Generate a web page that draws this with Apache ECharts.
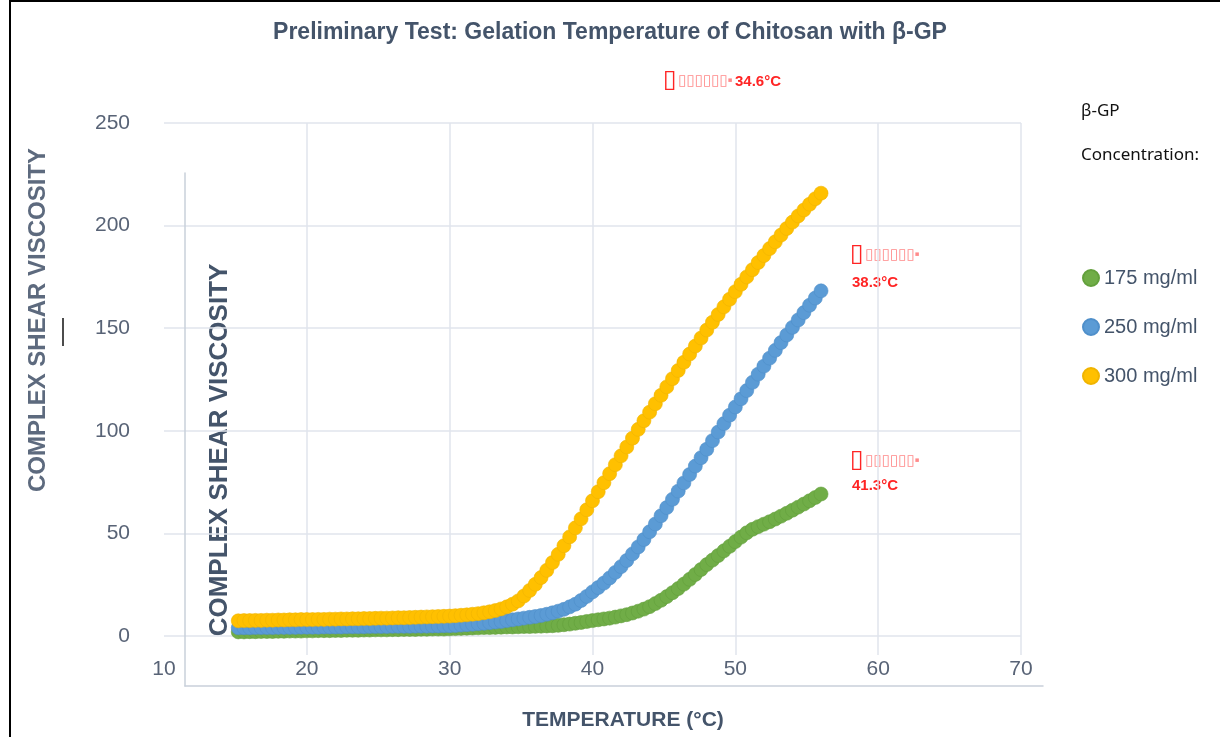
<!DOCTYPE html>
<html>
<head>
<meta charset="utf-8">
<script src="https://cdn.jsdelivr.net/npm/echarts@6/dist/echarts.min.js"></script>
<style>
  html, body { margin: 0; padding: 0; background: #fff; }
  #main { width: 1220px; height: 737px; }
</style>
</head>
<body>
<div id="main"></div>
<script>
// temperature (°C) of each reading
const temps = [
  15.2, 15.6, 16.0, 16.4, 16.8, 17.2, 17.6, 18.0, 18.4, 18.8,
  19.2, 19.6, 20.0, 20.4, 20.8, 21.2, 21.6, 22.0, 22.4, 22.8,
  23.2, 23.6, 24.0, 24.4, 24.8, 25.2, 25.6, 26.0, 26.4, 26.8,
  27.2, 27.6, 28.0, 28.4, 28.8, 29.2, 29.6, 30.0, 30.4, 30.8,
  31.2, 31.6, 32.0, 32.4, 32.8, 33.2, 33.6, 34.0, 34.4, 34.8,
  35.2, 35.6, 36.0, 36.4, 36.8, 37.2, 37.6, 38.0, 38.4, 38.8,
  39.2, 39.6, 40.0, 40.4, 40.8, 41.2, 41.6, 42.0, 42.4, 42.8,
  43.2, 43.6, 44.0, 44.4, 44.8, 45.2, 45.6, 46.0, 46.4, 46.8,
  47.2, 47.6, 48.0, 48.4, 48.8, 49.2, 49.6, 50.0, 50.4, 50.8,
  51.2, 51.6, 52.0, 52.4, 52.8, 53.2, 53.6, 54.0, 54.4, 54.8,
  55.2, 55.6, 56.0
];

const visc175 = [
  2.0, 2.0, 2.1, 2.1, 2.2, 2.2, 2.2, 2.3, 2.3, 2.4,
  2.4, 2.4, 2.5, 2.5, 2.6, 2.6, 2.6, 2.7, 2.7, 2.8,
  2.8, 2.8, 2.9, 2.9, 3.0, 3.0, 3.0, 3.1, 3.1, 3.2,
  3.2, 3.2, 3.3, 3.3, 3.4, 3.4, 3.4, 3.5, 3.6, 3.7,
  3.8, 3.9, 4.0, 4.1, 4.1, 4.2, 4.3, 4.4, 4.4, 4.5,
  4.6, 4.6, 4.7, 4.8, 4.9, 5.0, 5.2, 5.5, 5.8, 6.2,
  6.6, 7.1, 7.5, 7.9, 8.3, 8.7, 9.2, 9.8, 10.4, 11.2,
  12.1, 13.1, 14.3, 15.8, 17.4, 19.2, 21.1, 23.1, 25.3, 27.6,
  30.0, 32.4, 34.8, 37.0, 39.2, 41.5, 43.7, 46.0, 48.2, 50.3,
  52.0, 53.3, 54.5, 55.7, 57.0, 58.4, 59.8, 61.3, 62.8, 64.3,
  65.9, 67.5, 69.2
];

const visc250 = [
  4.0, 4.0, 4.0, 4.1, 4.1, 4.1, 4.1, 4.2, 4.2, 4.2,
  4.2, 4.3, 4.3, 4.3, 4.3, 4.4, 4.4, 4.4, 4.4, 4.5,
  4.5, 4.5, 4.5, 4.6, 4.6, 4.6, 4.6, 4.7, 4.7, 4.7,
  4.7, 4.8, 4.8, 4.8, 4.9, 4.9, 5.0, 5.0, 5.1, 5.3,
  5.5, 5.7, 6.0, 6.2, 6.5, 6.8, 7.1, 7.5, 7.9, 8.3,
  8.7, 9.1, 9.5, 10.0, 10.6, 11.3, 12.1, 13.0, 14.2, 15.5,
  17.3, 19.3, 21.5, 23.6, 25.8, 28.3, 31.0, 33.8, 36.8, 40.0,
  43.4, 47.0, 50.8, 54.6, 58.6, 62.6, 66.6, 70.6, 74.6, 78.7,
  82.8, 86.9, 91.0, 95.2, 99.4, 103.5, 107.6, 111.6, 115.6, 119.6,
  123.6, 127.6, 131.5, 135.4, 139.2, 143.0, 146.7, 150.4, 154.0, 157.6,
  161.2, 164.7, 168.2
];

const visc300 = [
  7.4, 7.5, 7.5, 7.6, 7.6, 7.7, 7.7, 7.8, 7.8, 7.9,
  7.9, 8.0, 8.0, 8.0, 8.1, 8.1, 8.2, 8.2, 8.3, 8.3,
  8.4, 8.4, 8.5, 8.5, 8.6, 8.7, 8.7, 8.8, 8.9, 8.9,
  9.0, 9.1, 9.2, 9.3, 9.4, 9.5, 9.6, 9.7, 9.9, 10.1,
  10.3, 10.6, 10.9, 11.3, 11.8, 12.4, 13.2, 14.2, 15.5, 17.1,
  19.5, 22.2, 25.2, 28.5, 32.0, 35.8, 39.8, 44.0, 48.3, 52.7,
  57.1, 61.5, 65.9, 70.3, 74.7, 79.1, 83.5, 87.8, 92.1, 96.4,
  100.7, 104.9, 109.1, 113.2, 117.3, 121.4, 125.4, 129.4, 133.4, 137.4,
  141.3, 145.2, 149.1, 152.9, 156.7, 160.4, 164.1, 167.8, 171.4, 175.0,
  178.5, 182.0, 185.4, 188.8, 192.1, 195.4, 198.6, 201.7, 204.7, 207.6,
  210.4, 213.1, 215.8
];

const seriesNames = ['175 mg/ml', '250 mg/ml', '300 mg/ml'];
const seriesColors = ['#70ad47', '#5b9bd5', '#ffc000'];
const seriesEdges = ['#63a03c', '#4f8fca', '#f0b400'];
const seriesValues = [visc175, visc250, visc300];

// onset temperatures written beside the curves
const onsetLabels = ['41.3°C', '38.3°C', '34.6°C'];

const tickColor = '#586376';
const darkText = '#44546a';
const gridColor = '#e1e5ec';
const frameColor = '#c9d0da';
const red = '#ff2424';

const pairs = vals => temps.map((t, i) => [t, vals[i]]);

const series = seriesNames.map((name, i) => ({
  name: name,
  type: 'scatter',
  xAxisIndex: 0,
  yAxisIndex: 0,
  symbol: 'circle',
  symbolSize: 14,
  itemStyle: { color: seriesColors[i], borderColor: seriesEdges[i], borderWidth: 0.6, opacity: 1 },
  data: pairs(seriesValues[i])
}));

// missing-glyph boxes that stand in front of each onset value
function tofu(x, y) {
  return {
    type: 'text', x: x, y: y,
    style: {
      text: '{big|▯}{sp| }{sm|▯▯▯▯▯▯}{sup|▪}',
      fill: red,
      rich: {
        big: { fontFamily: 'DejaVu Sans', fontSize: 25, fill: red, verticalAlign: 'bottom', height: 20 },
        sp: { fontSize: 5, height: 20 },
        sm: { fontFamily: 'DejaVu Sans', fontSize: 15, fill: '#ff8a8a', verticalAlign: 'bottom', height: 17 },
        sup: { fontFamily: 'DejaVu Sans', fontSize: 7, fill: '#ff8a8a', verticalAlign: 'top', height: 20 }
      }
    }
  };
}
function redValue(x, y, text) {
  return {
    type: 'text', x: x, y: y,
    style: { text: text, fill: red, font: 'bold 15px "Liberation Sans"', verticalAlign: 'middle' }
  };
}

const option = {
  animation: false,
  backgroundColor: '#fff',
  title: {
    text: 'Preliminary Test: Gelation Temperature of Chitosan with β-GP',
    left: 605, top: 16, textAlign: 'center',
    textStyle: { fontFamily: 'Liberation Sans', fontSize: 23, fontWeight: 'bold', color: darkText }
  },
  legend: {
    orient: 'vertical',
    left: 1082, top: 268, padding: 0,
    icon: 'circle', itemWidth: 16, itemHeight: 16, itemGap: 29,
    textStyle: { fontFamily: 'Liberation Sans', fontSize: 20, color: darkText },
    data: seriesNames
  },
  grid: [
    { left: 164, top: 123, width: 857, height: 513 },
    { left: 164, top: 123, width: 857, height: 532 },
    { left: 185, top: 173, width: 858, height: 513 }
  ],
  xAxis: [
    { gridIndex: 0, type: 'value', min: 10, max: 70, interval: 10,
      axisLabel: { show: false }, axisLine: { show: false }, axisTick: { show: false }, splitLine: { show: false } },
    { gridIndex: 1, type: 'value', min: 10, max: 70, interval: 10,
      axisLine: { show: false }, axisTick: { show: false },
      axisLabel: { fontFamily: 'Liberation Sans', fontSize: 21, color: tickColor, margin: 4 },
      splitLine: { show: true, showMinLine: false, lineStyle: { color: gridColor, width: 1.5 } } },
    { gridIndex: 2, type: 'value', min: 0, max: 1,
      axisLine: { show: true, onZero: false, lineStyle: { color: frameColor, width: 1.5 } },
      axisTick: { show: false }, axisLabel: { show: false }, splitLine: { show: false } }
  ],
  yAxis: [
    { gridIndex: 0, type: 'value', min: 0, max: 250, interval: 50,
      axisLine: { show: false }, axisTick: { show: false },
      axisLabel: { fontFamily: 'Liberation Sans', fontSize: 21, color: tickColor, margin: 34 },
      splitLine: { show: true, lineStyle: { color: gridColor, width: 1.5 } } },
    { gridIndex: 1, type: 'value', min: 0, max: 1, show: false },
    { gridIndex: 2, type: 'value', min: 0, max: 1,
      axisLine: { show: true, onZero: false, lineStyle: { color: frameColor, width: 1.5 } },
      axisTick: { show: false }, axisLabel: { show: false }, splitLine: { show: false } }
  ],
  graphic: [
    // page frame
    { type: 'line', shape: { x1: 10, y1: 0, x2: 10, y2: 737 }, style: { stroke: '#000', lineWidth: 2 } },
    { type: 'line', shape: { x1: 10, y1: 1, x2: 1220, y2: 1 }, style: { stroke: '#000', lineWidth: 2 } },
    // outer axis name
    { type: 'text', x: 38, y: 320, rotation: Math.PI / 2,
      style: { text: 'COMPLEX SHEAR VISCOSITY', fill: '#5d6a7e', font: 'bold 24px "Liberation Sans"',
        align: 'center', verticalAlign: 'middle' } },
    { type: 'line', shape: { x1: 63, y1: 318, x2: 63, y2: 346 }, style: { stroke: '#111', lineWidth: 1.5 } },
    // inner axis name
    { type: 'text', x: 220, y: 450, rotation: Math.PI / 2,
      style: { text: 'COMPLEX SHEAR VISCOSITY', fill: darkText, font: 'bold 26px "Liberation Sans"',
        align: 'center', verticalAlign: 'middle' } },
    // x axis name
    { type: 'text', x: 623, y: 720,
      style: { text: 'TEMPERATURE (°C)', fill: darkText, font: 'bold 21px "Liberation Sans"',
        align: 'center', verticalAlign: 'middle' } },
    // legend heading
    { type: 'text', x: 1081, y: 111,
      style: { text: 'β-GP', fill: '#111', font: '17px "Noto Sans"', verticalAlign: 'middle' } },
    { type: 'text', x: 1081, y: 155,
      style: { text: 'Concentration:', fill: '#111', font: '17px "Noto Sans"', verticalAlign: 'middle' } },
    // onset annotations
    tofu(663, 70), redValue(735, 82, onsetLabels[2]),
    tofu(850, 244), redValue(852, 283, onsetLabels[1]),
    tofu(850, 450), redValue(852, 486, onsetLabels[0])
  ],
  series: series
};

echarts.init(document.getElementById('main')).setOption(option);
</script>
</body>
</html>
